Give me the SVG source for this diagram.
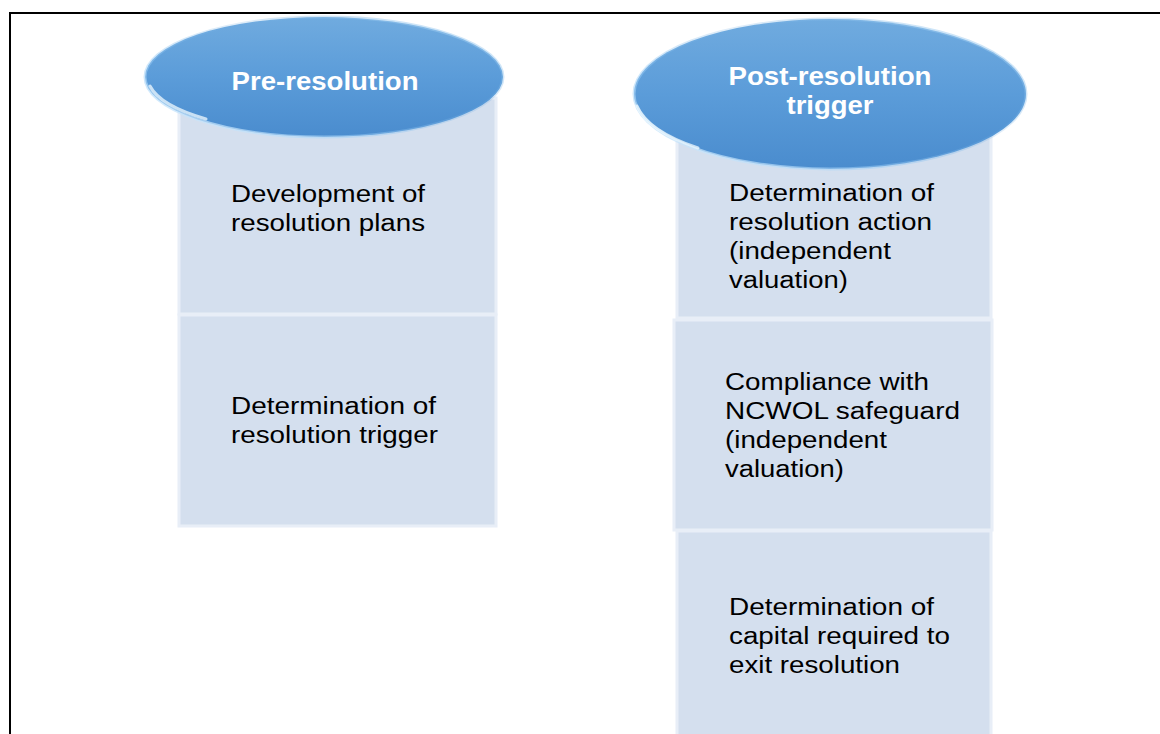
<svg xmlns="http://www.w3.org/2000/svg" width="1160" height="734" viewBox="0 0 1160 734">
<defs>
<linearGradient id="ellG" x1="0" y1="0" x2="0" y2="1">
<stop offset="0" stop-color="#70abdf"/>
<stop offset="0.5" stop-color="#5b9cd9"/>
<stop offset="1" stop-color="#4a8cce"/>
</linearGradient>
<linearGradient id="rim" x1="0" y1="1" x2="1" y2="0">
<stop offset="0" stop-color="#e8f6ff" stop-opacity="0.95"/>
<stop offset="0.3" stop-color="#9fd0f7" stop-opacity="0.5"/>
<stop offset="0.6" stop-color="#6aa9e0" stop-opacity="0.2"/>
<stop offset="1" stop-color="#bfe2fb" stop-opacity="0.7"/>
</linearGradient>
</defs>
<style>
.box{fill:#d4dfee;stroke:#e8eef7;stroke-width:3}
.bt{font-family:"Liberation Sans",Arial,sans-serif;font-size:23px;fill:#000}
.tt{font-family:"Liberation Sans",Arial,sans-serif;font-size:26px;font-weight:bold;fill:#fff;text-anchor:middle}
.ell{fill:url(#ellG);stroke:url(#rim);stroke-width:3}
.gloss{fill:none;stroke:#f2fbff;stroke-opacity:0.75;stroke-width:3;stroke-linecap:round}
</style>
<rect x="0" y="0" width="1160" height="734" fill="#fff"/>
<rect x="10" y="13" width="1170" height="740" fill="none" stroke="#000" stroke-width="2"/>

<g id="pre-dev">
<rect class="box" x="179" y="98" width="317" height="216"/>
<text class="bt"><tspan x="231" y="202" textLength="194" lengthAdjust="spacingAndGlyphs">Development of</tspan><tspan x="231" y="231" textLength="194" lengthAdjust="spacingAndGlyphs">resolution plans</tspan></text>
</g>
<g id="pre-trigger">
<rect class="box" x="179" y="315" width="317" height="211"/>
<text class="bt"><tspan x="231" y="414" textLength="205" lengthAdjust="spacingAndGlyphs">Determination of</tspan><tspan x="231" y="443" textLength="207" lengthAdjust="spacingAndGlyphs">resolution trigger</tspan></text>
</g>

<g id="post-action">
<rect class="box" x="677" y="130" width="314" height="188"/>
<text class="bt"><tspan x="729" y="201" textLength="205" lengthAdjust="spacingAndGlyphs">Determination of</tspan><tspan x="729" y="230" textLength="203" lengthAdjust="spacingAndGlyphs">resolution action</tspan><tspan x="729" y="259" textLength="162" lengthAdjust="spacingAndGlyphs">(independent</tspan><tspan x="729" y="288" textLength="119" lengthAdjust="spacingAndGlyphs">valuation)</tspan></text>
</g>
<g id="post-ncwol">
<rect class="box" x="674" y="320" width="318" height="210"/>
<text class="bt"><tspan x="725" y="390" textLength="204" lengthAdjust="spacingAndGlyphs">Compliance with</tspan><tspan x="725" y="419" textLength="235" lengthAdjust="spacingAndGlyphs">NCWOL safeguard</tspan><tspan x="725" y="448" textLength="162" lengthAdjust="spacingAndGlyphs">(independent</tspan><tspan x="725" y="477" textLength="119" lengthAdjust="spacingAndGlyphs">valuation)</tspan></text>
</g>
<g id="post-capital">
<rect class="box" x="677" y="531" width="314" height="220"/>
<text class="bt"><tspan x="729" y="615" textLength="205" lengthAdjust="spacingAndGlyphs">Determination of</tspan><tspan x="729" y="644" textLength="221" lengthAdjust="spacingAndGlyphs">capital required to</tspan><tspan x="729" y="673" textLength="171" lengthAdjust="spacingAndGlyphs">exit resolution</tspan></text>
</g>

<g id="pre-resolution">
<ellipse class="ell" cx="324" cy="77" rx="179" ry="60"/>
<path class="gloss" d="M150,86 A176,57 0 0 0 206,119"/>
<text class="tt" x="325" y="90" textLength="187" lengthAdjust="spacingAndGlyphs">Pre-resolution</text>
</g>
<g id="post-resolution">
<ellipse class="ell" cx="830" cy="94" rx="196" ry="75"/>
<path class="gloss" d="M637,106 A193,72 0 0 0 698,148"/>
<text class="tt"><tspan x="830" y="85" textLength="203" lengthAdjust="spacingAndGlyphs">Post-resolution</tspan><tspan x="830" y="114" textLength="87" lengthAdjust="spacingAndGlyphs">trigger</tspan></text>
</g>
<g id="connectors"/>
</svg>
